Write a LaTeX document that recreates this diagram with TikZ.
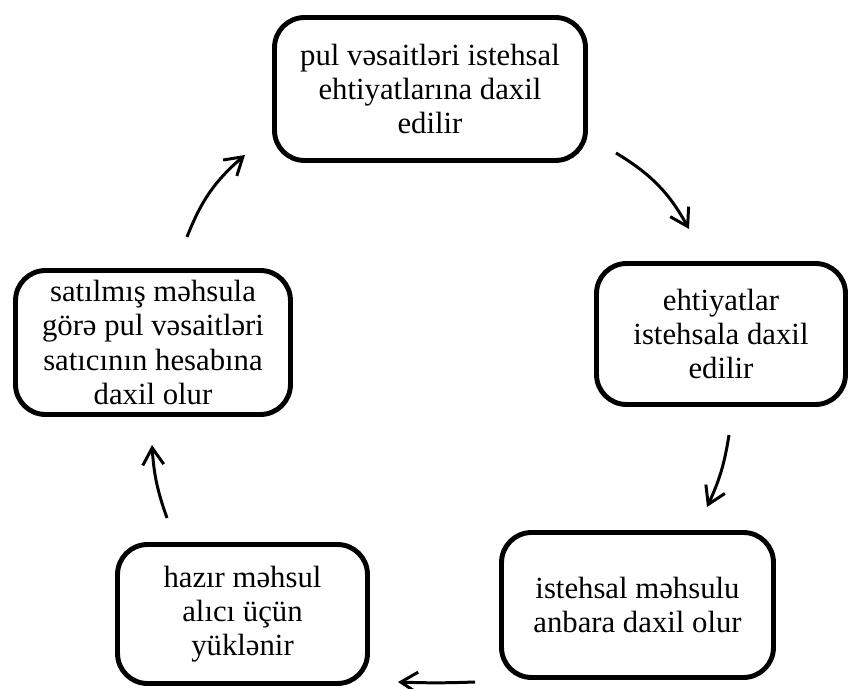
\documentclass[tikz,border=0pt]{standalone}
\usepackage{fontspec}
\setmainfont{Liberation Serif}
\usetikzlibrary{arrows.meta}

\begin{document}
\begin{tikzpicture}
  [x=0.02cm,y=-0.02cm,
   every node/.style={draw,line width=2.8pt,rounded corners=0.6cm,align=center,
     inner sep=0pt,font=\fontsize{17.5}{19.5}\selectfont},
   flow/.style={line width=1.7pt,arrows={-{Straight Barb[length=3.4mm,width=4.2mm]}}}]
  \useasboundingbox (0,0) rectangle (852,689);

  \node[minimum width=6.22cm,minimum height=2.86cm] (pul) at (430,89)
    {pul vəsaitləri istehsal\\ehtiyatlarına daxil\\edilir};
  \node[minimum width=4.98cm,minimum height=2.82cm] (ehtiyat) at (721,334)
    {ehtiyatlar\\istehsala daxil\\edilir};
  \node[minimum width=5.44cm,minimum height=2.9cm] (anbar) at (637.5,605)
    {istehsal məhsulu\\anbara daxil olur};
  \node[minimum width=5.0cm,minimum height=2.78cm] (hazir) at (242.5,614)
    {hazır məhsul\\alıcı üçün\\yüklənir};
  \node[minimum width=5.5cm,minimum height=2.88cm] (satis) at (153,342.5)
    {satılmış məhsula\\görə pul vəsaitləri\\satıcının hesabına\\daxil olur};

  \coordinate (pul-out) at (616,153);   \coordinate (ehtiyat-in) at (689,229);
  \coordinate (ehtiyat-out) at (729,435); \coordinate (anbar-in) at (707,507);
  \coordinate (anbar-out) at (475,682);  \coordinate (hazir-in) at (398,682);
  \coordinate (hazir-out) at (167,518);  \coordinate (satis-in) at (152,445);
  \coordinate (satis-out) at (187,237);  \coordinate (pul-in) at (245,155);

  \draw[flow] (pul-out) to [bend left=15] (ehtiyat-in);
  \draw[flow] (ehtiyat-out) to [bend left=8] (anbar-in);
  \draw[flow] (anbar-out) to [bend left=2] (hazir-in);
  \draw[flow] (hazir-out) to [bend left=8] (satis-in);
  \draw[flow] (satis-out) to [bend left=14] (pul-in);
\end{tikzpicture}
\end{document}
